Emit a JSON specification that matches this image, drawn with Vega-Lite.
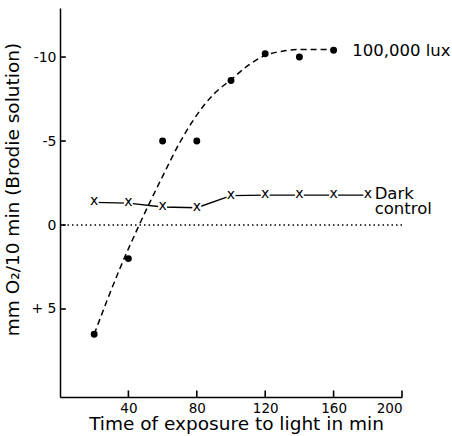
{
  "$schema": "https://vega.github.io/schema/vega-lite/v6.json",
  "width": 342,
  "height": 389,
  "autosize": {"type": "none"},
  "padding": {"left": 60, "top": 8, "right": 50, "bottom": 39},
  "background": "white",
  "config": {
    "view": {"stroke": null},
    "font": "DejaVu Sans",
    "axis": {"grid": false, "ticks": false, "domainColor": "black", "domainWidth": 1.5, "labelColor": "black", "titleColor": "black", "labelFont": "DejaVu Sans", "titleFont": "DejaVu Sans", "labelFontWeight": "normal", "titleFontWeight": "normal"}
  },
  "datasets": {
    "light": [
      {"t": 20, "v": 6.5}, {"t": 40, "v": 2.0}, {"t": 60, "v": -5.0}, {"t": 80, "v": -5.0},
      {"t": 100, "v": -8.6}, {"t": 120, "v": -10.2}, {"t": 140, "v": -10.0}, {"t": 160, "v": -10.4}
    ],
    "curve": [
      {"t": 20, "v": 6.5}, {"t": 35, "v": 2.6}, {"t": 46.3, "v": 0.0}, {"t": 60, "v": -2.9},
      {"t": 70, "v": -4.9}, {"t": 78, "v": -6.25}, {"t": 84, "v": -7.1}, {"t": 90, "v": -7.8},
      {"t": 100, "v": -8.65}, {"t": 110, "v": -9.5}, {"t": 120, "v": -10.1}, {"t": 130, "v": -10.35},
      {"t": 140, "v": -10.45}, {"t": 163, "v": -10.45}
    ],
    "dark": [
      {"t": 20, "v": -1.35}, {"t": 40, "v": -1.3}, {"t": 60, "v": -1.07}, {"t": 80, "v": -1.03},
      {"t": 100, "v": -1.75}, {"t": 120, "v": -1.78}, {"t": 140, "v": -1.78}, {"t": 160, "v": -1.78}, {"t": 180, "v": -1.78}
    ],
    "labels": [
      {"t": 170.9, "v": -10.06, "txt": "100,000 lux", "fs": 16.5},
      {"t": 184, "v": -1.53, "txt": "Dark", "fs": 16.5},
      {"t": 184, "v": -0.64, "txt": "control", "fs": 16.5}
    ],
    "xticks": [{"t": 40, "a": 10.24, "b": 9.85}, {"t": 80, "a": 10.24, "b": 9.85}, {"t": 120, "a": 10.24, "b": 9.85}, {"t": 160, "a": 10.24, "b": 9.85}, {"t": 200, "a": 10.24, "b": 9.85}],
    "yticks": [{"v": -10, "a": 0, "b": 3.4}, {"v": -5, "a": 0, "b": 3.4}, {"v": 0, "a": 0, "b": 3.4}, {"v": 5, "a": 0, "b": 3.4}],
    "zero": [{"v": 0}]
  },
  "encoding": {
    "x": {"field": "t", "type": "quantitative",
      "scale": {"domain": [0, 200], "nice": false, "zero": false},
      "axis": {"values": [40, 80, 120, 160, 200], "labelPadding": 4, "labelFontSize": 13.5,
        "title": "Time of exposure to light in min", "titleFontSize": 18.5, "titleBaseline": "alphabetic", "titleY": 32, "titleX": 176}},
    "y": {"field": "v", "type": "quantitative",
      "scale": {"domain": [-12.92, 10.24], "reverse": true, "nice": false, "zero": false},
      "axis": {"values": [-10, -5, 0, 5], "labelPadding": 4, "labelFontSize": 14,
        "labelExpr": "datum.value < 0 ? '-' + abs(datum.value) : (datum.value > 0 ? '+ ' + datum.value : '0')",
        "title": "mm O₂/10 min (Brodie solution)", "titleFontSize": 18.5, "titleY": 181, "titlePadding": 8}}
  },
  "layer": [
    {"data": {"name": "zero"}, "mark": {"type": "rule", "strokeDash": [1.5, 3], "strokeWidth": 1.4, "color": "black"},
      "encoding": {"x": null}},
    {"data": {"name": "curve"}, "mark": {"type": "line", "interpolate": "monotone", "strokeDash": [6, 4], "strokeWidth": 1.5, "color": "black"}},
    {"data": {"name": "light"}, "mark": {"type": "circle", "size": 48, "opacity": 1, "color": "black"}},
    {"data": {"name": "dark"}, "mark": {"type": "line", "strokeWidth": 1.4, "color": "black"}},
    {"data": {"name": "dark"}, "mark": {"type": "square", "size": 80, "color": "white", "opacity": 1, "filled": true}},
    {"data": {"name": "dark"}, "mark": {"type": "text", "text": "x", "fontSize": 14, "baseline": "middle", "align": "center", "color": "black", "dy": -1}},
    {"data": {"name": "labels"}, "mark": {"type": "text", "align": "left", "baseline": "alphabetic", "color": "black"},
      "encoding": {"text": {"field": "txt"}, "size": {"field": "fs", "type": "quantitative", "scale": null}}},
    {"data": {"name": "xticks"}, "mark": {"type": "rule", "strokeWidth": 1.6, "color": "black", "opacity": 1},
      "encoding": {"x": {"field": "t", "type": "quantitative"}, "y": {"field": "a", "type": "quantitative"}, "y2": {"field": "b"}}},
    {"data": {"name": "yticks"}, "mark": {"type": "rule", "strokeWidth": 1.6, "color": "black", "opacity": 1},
      "encoding": {"y": {"field": "v", "type": "quantitative"}, "x": {"field": "a", "type": "quantitative"}, "x2": {"field": "b"}}}
  ]
}
